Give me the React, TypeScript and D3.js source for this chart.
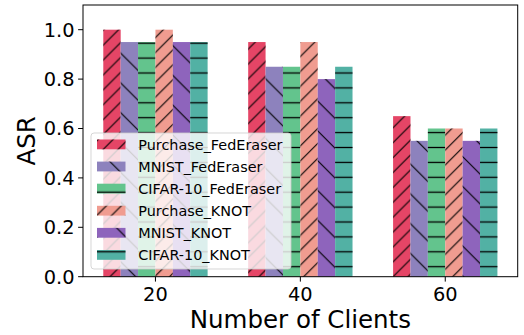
import React from "react";
import * as d3 from "d3";

// ASR per number of clients, one array per method/dataset
const clients = [20, 40, 60];
const seriesNames = [
  "Purchase_FedEraser",
  "MNIST_FedEraser",
  "CIFAR-10_FedEraser",
  "Purchase_KNOT",
  "MNIST_KNOT",
  "CIFAR-10_KNOT",
];
const purchaseFedEraser = [1.0, 0.95, 0.65];
const mnistFedEraser = [0.95, 0.85, 0.55];
const cifarFedEraser = [0.95, 0.85, 0.6];
const purchaseKnot = [1.0, 0.95, 0.6];
const mnistKnot = [0.95, 0.8, 0.55];
const cifarKnot = [0.95, 0.85, 0.6];
const seriesValues = [
  purchaseFedEraser,
  mnistFedEraser,
  cifarFedEraser,
  purchaseKnot,
  mnistKnot,
  cifarKnot,
];
const seriesColors = ["#E54566", "#8D82BD", "#63C48D", "#F09C90", "#8E64BC", "#52B1A4"];
const seriesHatch = ["fwd", "back", "horiz", "fwd", "back", "horiz"];
const yTicks = [0, 0.2, 0.4, 0.6, 0.8, 1.0];

const W = 524;
const H = 335;
const M = { left: 83, right: 517.7, top: 5, bottom: 276.7 };
const BAR_W = 2.4; // in client units
const FONT = "'DejaVu Sans', sans-serif";
const HS = 14.9; // hatch spacing

export default function App() {
  const x = d3.scaleLinear().domain([10, 70]).range([M.left, M.right]);
  const y = d3.scaleLinear().domain([0, 1.1]).range([M.bottom, M.top]);
  const bw = x(BAR_W) - x(0);

  const bars: JSX.Element[] = [];
  seriesValues.forEach((vals, si) => {
    vals.forEach((v, ci) => {
      const cx = clients[ci] + (si - 2.5) * BAR_W;
      const x0 = x(cx - BAR_W / 2);
      const y0 = y(v);
      const h = y(0) - y0;
      bars.push(
        <g key={`b${si}-${ci}`}>
          <rect x={x0} y={y0} width={bw} height={h} fill={seriesColors[si]} />
          <rect x={x0} y={y0} width={bw} height={h} fill={`url(#h-${seriesHatch[si]})`} />
        </g>
      );
    });
  });

  const lg = { x: 91, y: 133, w: 200, h: 136 };
  const rowY0 = 144.4;
  const rowStep = 22.1;

  const s2 = HS * 2;
  return (
    <svg
      width={W}
      height={H}
      style={{ position: "absolute", left: 0, top: 0, background: "#fff" }}
      fontFamily={FONT}
    >
      <defs>
        <pattern id="h-fwd" patternUnits="userSpaceOnUse" width={HS} height={HS} x={-0.7} y={0}>
          <path
            d={`M0,${HS} L${HS},0 M${-HS / 2},${HS / 2} L${HS / 2},${-HS / 2} M${HS / 2},${1.5 * HS} L${1.5 * HS},${HS / 2}`}
            stroke="#000"
            strokeWidth={1.1}
          />
        </pattern>
        <pattern id="h-back" patternUnits="userSpaceOnUse" width={s2} height={s2} x={8} y={0}>
          <path
            d={`M0,0 L${s2},${s2} M${-s2 / 2},${s2 / 2} L${s2 / 2},${1.5 * s2} M${s2 / 2},${-s2 / 2} L${1.5 * s2},${s2 / 2}`}
            stroke="#000"
            strokeWidth={1.1}
          />
        </pattern>
        <pattern id="h-horiz" patternUnits="userSpaceOnUse" width={HS} height={HS} x={0} y={43.2 - HS / 2}>
          <path d={`M-1,${HS / 2} L${HS + 1},${HS / 2}`} stroke="#000" strokeWidth={1.3} />
        </pattern>
      </defs>

      {bars}

      {/* axes frame */}
      <rect
        x={M.left}
        y={M.top}
        width={M.right - M.left}
        height={M.bottom - M.top}
        fill="none"
        stroke="#000"
        strokeWidth={1}
      />

      {/* y ticks */}
      {yTicks.map((t) => (
        <g key={`yt${t}`}>
          <line x1={M.left - 4.9} x2={M.left} y1={y(t)} y2={y(t)} stroke="#000" strokeWidth={1} />
          <text x={M.left - 8.5} y={y(t)} dy="0.36em" textAnchor="end" fontSize={19.4} fill="#000">
            {t.toFixed(1)}
          </text>
        </g>
      ))}

      {/* x ticks */}
      {clients.map((c) => (
        <g key={`xt${c}`}>
          <line x1={x(c)} x2={x(c)} y1={M.bottom} y2={M.bottom + 4.9} stroke="#000" strokeWidth={1} />
          <text x={x(c)} y={300.6} textAnchor="middle" fontSize={19.4} fill="#000">
            {c}
          </text>
        </g>
      ))}

      <text x={(M.left + M.right) / 2} y={328.3} textAnchor="middle" fontSize={24.5} fill="#000">
        Number of Clients
      </text>
      <text
        transform={`translate(35,${(M.top + M.bottom) / 2}) rotate(-90)`}
        textAnchor="middle"
        fontSize={24.5}
        fill="#000"
      >
        ASR
      </text>

      {/* legend */}
      <rect
        x={lg.x}
        y={lg.y}
        width={lg.w}
        height={lg.h}
        rx={3}
        fill="#fff"
        fillOpacity={0.8}
        stroke="#cccccc"
        strokeOpacity={0.8}
        strokeWidth={1}
      />
      {seriesNames.map((name, i) => {
        const cy = rowY0 + i * rowStep;
        return (
          <g key={`lg${i}`}>
            <rect x={97} y={cy - 4.9} width={28.5} height={9.8} fill={seriesColors[i]} />
            <rect x={97} y={cy - 4.9} width={28.5} height={9.8} fill={`url(#h-${seriesHatch[i]})`} />
            <text x={138.3} y={cy + 5.2} fontSize={14.4} fill="#000">
              {name}
            </text>
          </g>
        );
      })}
    </svg>
  );
}
